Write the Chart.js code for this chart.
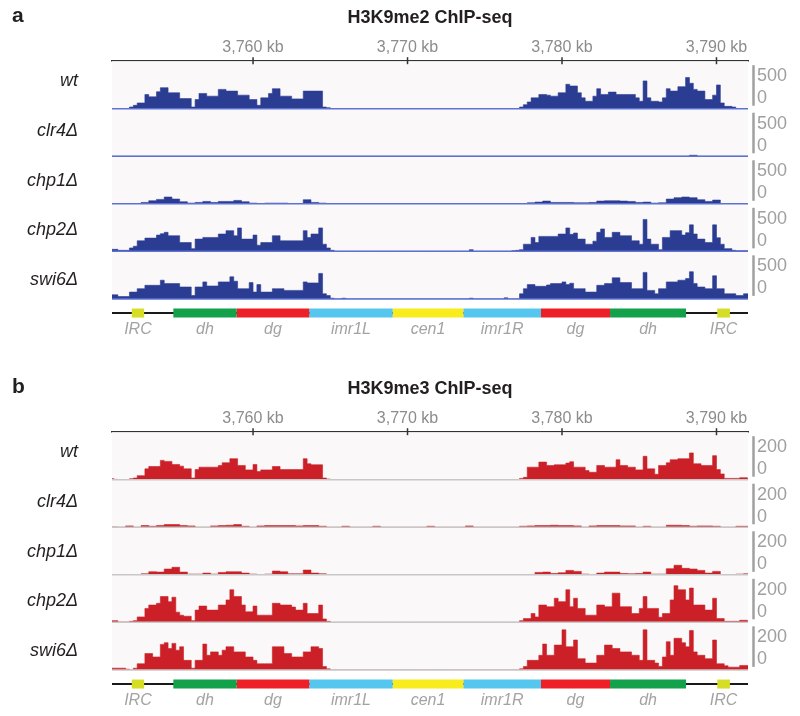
<!DOCTYPE html>
<html>
<head>
<meta charset="utf-8">
<script src="https://cdn.jsdelivr.net/npm/chart.js@4.4.1/dist/chart.umd.min.js"></script>
<style>
  body { margin: 0; background: #fff; width: 800px; height: 716px; overflow: hidden; position: relative; }
  .panel { position: absolute; left: 0; width: 800px; height: 345px; }
  #panelA { top: 0; }
  #panelB { top: 371px; }
</style>
</head>
<body>
<div class="panel" id="panelA"><canvas id="chartA"></canvas></div>
<div class="panel" id="panelB"><canvas id="chartB"></canvas></div>
<script>
// genome window (kb) and ruler ticks
const xMinKb = 3750.87;
const xMaxKb = 3792.04;
const tickKb = [3760, 3770, 3780, 3790];

// coverage is binned from binStartKb; strong tracks at 0.25 kb, weak ones at 0.5 kb
const binStartKb = 3750.75;
const fineBinKb = 0.25;
const coarseBinKb = 0.5;

const samples = ['wt', 'clr4Δ', 'chp1Δ', 'chp2Δ', 'swi6Δ'];

// H3K9me2 ChIP-seq coverage (panel a)
const me2Wt = [0,0,0,0,0,25,50,85,85,210,175,175,250,310,310,235,235,235,150,150,150,25,135,225,225,185,185,185,285,285,
  260,260,260,200,200,200,135,135,50,160,160,225,295,295,185,185,185,145,145,145,260,260,260,260,260,25,15,0,
  0,0,0,0,0,0,0,0,0,0,0,
  0,0,0,0,0,0,0,0,0,0,0,
  0,0,0,0,0,0,0,0,0,0,0,
  0,0,0,0,0,0,0,0,0,0,0,
  0,0,0,0,25,60,100,160,160,210,210,200,185,185,235,235,360,335,335,235,160,110,110,185,295,210,210,245,245,210,
  210,210,210,210,160,110,410,160,110,110,100,160,295,260,260,325,325,460,375,285,260,260,135,135,200,350,85,35,35,25,0,0,0,0];
const me2Clr4 = [0,0,0,0,0,0,0,0,0,0,0,0,0,0,0,0,0,0,0,0,0,0,0,0,0,0,0,0,0,
  0,0,0,0,0,0,0,0,0,0,0,0,0,0,0,0,0,0,0,0,0,0,
  0,0,0,0,0,0,0,0,0,0,0,0,0,0,0,0,0,0,0,0,0,0,0,0,15,0,0,0,0,0,0,0];
const me2Chp1 = [0,0,0,0,20,45,65,100,70,30,10,20,35,20,35,35,50,30,10,5,10,10,10,0,5,60,20,10,0,
  0,0,0,0,0,0,0,0,0,0,0,0,0,0,0,0,0,0,0,0,0,0,
  0,0,0,15,25,40,20,20,20,15,15,20,40,45,45,40,35,20,25,10,15,70,90,100,90,60,35,55,0,0,0,0];
const me2Chp2 = [30,30,15,15,15,50,75,155,155,195,195,195,240,260,280,230,230,230,130,130,130,40,180,180,205,205,205,205,255,255,
  305,305,230,345,180,180,180,240,90,130,130,130,230,230,155,155,155,155,155,155,305,205,255,255,345,105,50,15,
  0,0,0,0,0,0,0,0,0,0,0,
  0,0,0,0,0,0,0,0,0,0,0,
  0,0,0,0,0,0,0,0,0,0,0,
  0,0,25,0,0,0,0,0,0,0,0,
  0,0,10,15,25,105,105,205,130,220,220,220,220,220,255,255,345,250,270,180,180,105,105,150,280,330,205,205,280,280,
  230,230,230,155,155,105,470,180,105,105,25,205,205,305,305,305,240,275,390,255,180,180,130,130,390,200,105,40,40,15,10,10,10,10];
const me2Swi6 = [60,60,35,35,35,100,100,150,150,200,200,200,200,275,225,225,225,225,175,175,175,50,175,175,250,190,190,190,250,250,
  250,325,260,150,150,150,240,100,210,100,100,100,150,150,150,125,125,125,125,125,250,235,235,235,375,75,50,10,
  0,0,10,0,0,0,0,0,0,0,0,
  0,0,0,0,0,0,0,0,0,0,0,
  0,0,0,0,0,0,0,0,0,0,0,
  0,0,10,0,0,0,0,0,0,0,0,
  15,0,0,0,75,150,210,210,185,185,185,205,225,225,225,250,210,230,150,150,150,100,100,100,200,200,225,225,310,310,
  240,240,240,150,150,150,390,125,125,75,150,150,250,250,250,275,275,300,400,225,175,175,150,150,340,150,150,75,75,75,50,50,75,75];

// H3K9me3 ChIP-seq coverage (panel b)
const me3Wt = [6,2,0,0,0,6,10,24,24,64,78,78,78,114,108,108,90,90,80,64,64,10,60,74,74,74,74,74,84,100,
  100,124,124,84,84,58,58,90,48,58,58,58,78,78,60,60,60,60,60,60,124,94,88,88,88,10,4,0,
  0,0,0,0,0,0,0,0,0,0,0,
  0,0,0,0,0,0,0,0,0,0,0,
  0,0,0,0,0,0,0,0,0,0,0,
  0,0,0,0,0,0,0,0,0,0,0,
  0,0,0,0,8,14,74,74,74,104,104,84,84,88,88,88,98,106,74,74,74,54,44,44,84,84,74,74,74,118,
  84,84,74,74,58,58,138,64,64,32,84,84,100,118,118,124,124,124,158,94,94,84,84,84,142,60,34,8,8,8,8,12,12,4];
const me3Clr4 = [2,0,8,0,10,6,10,16,16,10,8,0,0,8,10,12,16,6,0,8,10,10,10,10,8,10,10,6,0,
  0,6,0,0,0,6,0,0,0,0,0,0,6,0,0,0,0,8,0,0,0,0,
  0,0,6,8,10,10,12,10,10,8,0,8,10,10,10,8,8,0,6,0,0,12,12,10,6,8,8,6,0,0,6,6];
const me3Chp1 = [0,0,0,0,6,18,16,34,44,16,4,4,10,4,14,18,18,10,4,0,4,22,18,6,6,28,10,6,0,
  0,0,0,0,0,0,0,0,0,0,0,0,0,0,0,0,0,0,0,0,0,0,
  0,0,0,2,14,16,8,12,26,20,4,0,10,16,16,8,6,8,16,4,4,36,56,38,34,26,10,20,0,0,4,6];
const me3Chp2 = [10,10,2,2,2,6,10,32,32,82,102,102,112,152,152,122,148,60,42,36,36,10,72,96,96,72,72,72,102,102,
  132,192,152,152,102,62,62,96,42,42,42,42,112,112,102,102,102,90,72,72,112,52,52,52,102,20,6,0,
  0,0,0,0,0,0,0,0,0,0,0,
  0,0,0,0,0,0,0,0,0,0,0,
  0,0,0,0,0,0,0,0,0,0,0,
  0,0,0,0,0,0,0,0,0,0,0,
  0,0,0,0,10,22,22,52,32,102,102,92,92,142,122,122,192,92,142,82,82,42,42,42,102,102,92,92,172,172,
  92,92,92,52,52,82,152,82,82,82,30,52,52,132,216,192,192,132,202,102,102,102,72,72,142,22,22,6,6,6,6,12,12,6];
const me3Swi6 = [10,10,10,10,4,0,10,36,36,96,96,76,76,150,160,126,156,116,136,56,56,10,56,56,152,86,106,106,86,116,
  136,136,106,106,106,76,76,56,36,36,36,36,136,136,136,96,96,76,76,76,106,106,136,136,126,20,6,0,
  0,0,0,0,0,0,0,0,0,0,0,
  0,0,0,0,0,0,0,0,0,0,0,
  0,0,0,0,0,0,0,0,0,0,0,
  0,0,0,0,0,0,0,0,0,0,0,
  0,0,0,0,6,20,56,56,56,86,152,86,86,146,146,236,136,136,176,66,66,40,40,40,86,86,146,146,126,126,
  106,106,106,86,86,56,236,56,56,40,20,76,166,86,186,186,160,136,232,106,86,86,66,66,176,36,36,24,16,16,16,26,26,26];

// centromere 1 annotation (kb)
const annNames = ['IRC', 'dh', 'dg', 'imr1L', 'cen1', 'imr1R', 'dg', 'dh', 'IRC'];
const annStart = [3752.15, 3754.84, 3758.94, 3763.64, 3769.04, 3773.61, 3778.64, 3783.11, 3790.05];
const annEnd   = [3752.95, 3758.94, 3763.64, 3769.04, 3773.61, 3778.64, 3783.11, 3788.03, 3790.87];

const FONT = "'Liberation Sans', Arial, Helvetica, sans-serif";
const annColors = { IRC: '#d5dd25', dh: '#13a24b', dg: '#ee2027', imr1L: '#55c7ef', imr1R: '#55c7ef', cen1: '#f8ec1c' };

Chart.defaults.font.family = FONT;

function stepPoints(values, binKb) {
  const pts = values.map((v, i) => ({ x: binStartKb + i * binKb, y: v }));
  pts.push({ x: binStartKb + values.length * binKb, y: values[values.length - 1] });
  return pts;
}

// draws the track background, baselines, labels, data-range bars and annotation names
const tracksPlugin = {
  id: 'tracks',
  beforeDatasetsDraw(chart, args, o) {
    const { ctx, chartArea: a, scales } = chart;
    ctx.save();
    ctx.fillStyle = '#fbf8f9';
    ctx.fillRect(a.left, scales.t0.top, a.right - a.left, scales.t4.bottom - scales.t0.top);
    ctx.restore();
  },
  afterDatasetsDraw(chart, args, o) {
    const { ctx, chartArea: a, scales } = chart;
    ctx.save();
    ctx.strokeStyle = o.baseColor;
    ctx.lineWidth = 1.5;
    samples.forEach((s, i) => {
      const y = scales['t' + i].getPixelForValue(0);
      ctx.beginPath();
      ctx.moveTo(a.left, y);
      ctx.lineTo(a.right, y);
      ctx.stroke();
    });
    ctx.restore();
  },
  afterDraw(chart, args, o) {
    const { ctx, chartArea: a, scales } = chart;
    ctx.save();
    ctx.fillStyle = '#231f20';
    ctx.textBaseline = 'alphabetic';
    ctx.textAlign = 'left';
    ctx.font = 'bold 21px ' + FONT;
    ctx.fillText(o.letter, 12, a.top - 39);
    ctx.textAlign = 'center';
    ctx.font = 'bold 18px ' + FONT;
    ctx.fillText(o.title, (a.left + a.right) / 2, a.top - 38);

    // ruler tick marks
    ctx.strokeStyle = '#333';
    ctx.lineWidth = 1.5;
    scales.x.ticks.forEach(t => {
      const px = scales.x.getPixelForValue(t.value);
      ctx.beginPath();
      ctx.moveTo(px, a.top - 4);
      ctx.lineTo(px, a.top + 3);
      ctx.stroke();
    });

    samples.forEach((name, i) => {
      const s = scales['t' + i];
      ctx.fillStyle = '#231f20';
      ctx.font = 'italic 18px ' + FONT;
      ctx.textAlign = 'right';
      ctx.fillText(name, 78, s.top + 25 + i * 2.2);

      ctx.strokeStyle = '#a0a0a0';
      ctx.lineWidth = 2.5;
      ctx.beginPath();
      ctx.moveTo(a.right + 5.5, s.top + 4);
      ctx.lineTo(a.right + 5.5, s.bottom - 3);
      ctx.stroke();
      ctx.fillStyle = '#a0a0a0';
      ctx.font = '18px ' + FONT;
      ctx.textAlign = 'left';
      ctx.fillText(o.rangeLabel, a.right + 9, s.top + 20);
      ctx.fillText('0', a.right + 9, s.top + 42);
    });

    const ann = scales.ann;
    ctx.fillStyle = '#a3a3a3';
    ctx.font = 'italic 16px ' + FONT;
    ctx.textAlign = 'center';
    annNames.forEach((n, i) => {
      ctx.fillText(n, scales.x.getPixelForValue((annStart[i] + annEnd[i]) / 2), ann.top + 35);
    });
    ctx.restore();
  }
};

function makePanel(canvasId, tracks, color, yMax, opts) {
  const datasets = [];
  tracks.forEach((t, i) => {
    datasets.push({
      data: stepPoints(t.values, t.binKb),
      yAxisID: 't' + i,
      stepped: true,
      fill: 'origin',
      backgroundColor: color,
      borderColor: color,
      borderWidth: 0.6,
      pointRadius: 0
    });
  });
  annNames.forEach((n, i) => {
    datasets.push({
      data: [{ x: annStart[i], y: 0 }, { x: annEnd[i], y: 0 }],
      yAxisID: 'ann',
      borderColor: annColors[n],
      borderWidth: 9,
      pointRadius: 0
    });
  });
  // chromosome backbone, drawn under the features
  datasets.push({
    data: [{ x: xMinKb, y: 0 }, { x: xMaxKb, y: 0 }],
    yAxisID: 'ann',
    borderColor: '#1a1a1a',
    borderWidth: 2,
    pointRadius: 0
  });

  const hiddenAxis = {
    type: 'linear', position: 'right', stack: 'tracks',
    grid: { display: false, drawTicks: false },
    border: { display: false },
    ticks: { display: false }
  };
  const scales = {
    x: {
      type: 'linear', position: 'top', min: xMinKb, max: xMaxKb,
      afterBuildTicks: s => { s.ticks = tickKb.map(v => ({ value: v })); },
      grid: { display: false, drawTicks: false },
      border: { display: true, color: '#333', width: 1.5 },
      ticks: {
        color: '#8c8c8c', padding: 4, maxRotation: 0, autoSkip: false,
        font: { size: 16 },
        callback: v => v.toLocaleString('en-US') + ' kb'
      }
    }
  };
  samples.forEach((s, i) => {
    scales['t' + i] = Object.assign({}, hiddenAxis, { min: 0, max: yMax, stackWeight: 47.4 });
  });
  scales.ann = Object.assign({}, hiddenAxis, { min: -1.9, max: 1, stackWeight: 41 });

  return new Chart(document.getElementById(canvasId), {
    type: 'line',
    data: { datasets: datasets },
    options: {
      responsive: true,
      maintainAspectRatio: false,
      animation: false,
      events: [],
      layout: { padding: { top: 34, right: 52, left: 112, bottom: 5 } },
      scales: scales,
      plugins: {
        legend: { display: false },
        tooltip: { enabled: false },
        tracks: opts
      }
    },
    plugins: [tracksPlugin]
  });
}

makePanel('chartA', [
  { values: me2Wt, binKb: fineBinKb },
  { values: me2Clr4, binKb: coarseBinKb },
  { values: me2Chp1, binKb: coarseBinKb },
  { values: me2Chp2, binKb: fineBinKb },
  { values: me2Swi6, binKb: fineBinKb }
], '#2b3d92', 700, { letter: 'a', title: 'H3K9me2 ChIP-seq', rangeLabel: '500', baseColor: '#5d72d3' });

makePanel('chartB', [
  { values: me3Wt, binKb: fineBinKb },
  { values: me3Clr4, binKb: coarseBinKb },
  { values: me3Chp1, binKb: coarseBinKb },
  { values: me3Chp2, binKb: fineBinKb },
  { values: me3Swi6, binKb: fineBinKb }
], '#cb2027', 280, { letter: 'b', title: 'H3K9me3 ChIP-seq', rangeLabel: '200', baseColor: '#c8c8c8' });
</script>
</body>
</html>
